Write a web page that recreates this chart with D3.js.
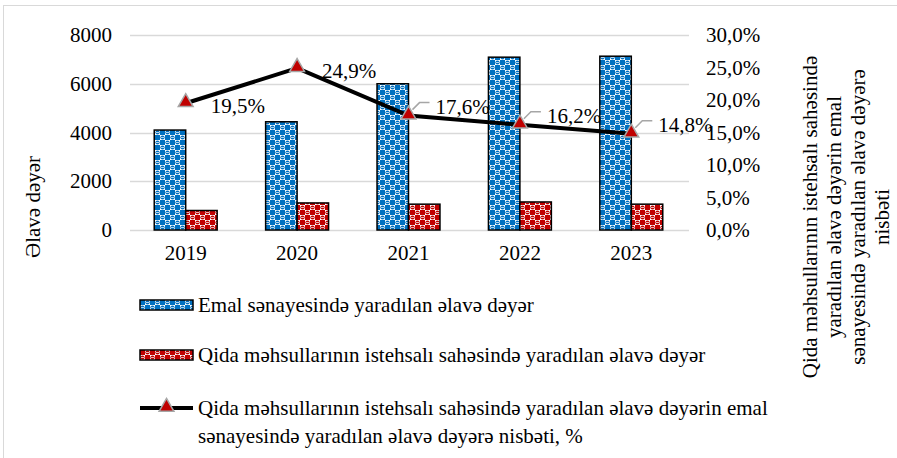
<html>
<head>
<meta charset="utf-8">
<script src="https://cdn.jsdelivr.net/npm/d3@7"></script>
</head>
<body style="margin:0">
<script>
(function(d3) {
  'use strict';

  // values
  var years = ['2019', '2020', '2021', '2022', '2023'];
  var emal = [4100, 4440, 6000, 7090, 7130];      // Emal sənayesi
  var qida = [800, 1110, 1060, 1150, 1060];       // Qida məhsulları
  var nisbet = [19.5, 24.9, 17.6, 16.2, 14.8];    // %
  var leftTicks = [0, 2000, 4000, 6000, 8000];
  var rightTicks = [0, 5, 10, 15, 20, 25, 30];

  var legendLabels = [
    'Emal sənayesində yaradılan əlavə dəyər',
    'Qida məhsullarının istehsalı sahəsində yaradılan əlavə dəyər',
    ['Qida məhsullarının istehsalı sahəsində yaradılan əlavə dəyərin emal',
     'sənayesində yaradılan əlavə dəyərə nisbəti, %']
  ];
  var rightTitle = ['Qida məhsullarının istehsalı sahəsində',
                    'yaradılan əlavə dəyərin emal',
                    'sənayesində yaradılan əlavə dəyərə',
                    'nisbəti'];

  var blue = '#0070C0', red = '#C00000';
  var width = 897, height = 458;
  var fs = 21;
  var font = 'Liberation Serif';

  var svg = d3.select('body').append('svg')
    .attr('width', width)
    .attr('height', height)
    .attr('font-family', font);

  // patterns for the bars
  var defs = svg.append('defs');
  function makePattern(id, color) {
    var p = defs.append('pattern')
      .attr('id', id)
      .attr('patternUnits', 'userSpaceOnUse')
      .attr('width', 10).attr('height', 10);
    p.append('rect').attr('width', 10).attr('height', 10).attr('fill', '#fff');
    p.append('rect').attr('x', 0).attr('y', 0).attr('width', 5).attr('height', 5).attr('fill', color);
    p.append('rect').attr('x', 5).attr('y', 5).attr('width', 5).attr('height', 5).attr('fill', color);
    p.append('circle').attr('cx', 7.5).attr('cy', 2.5).attr('r', 2.1).attr('fill', color);
    p.append('circle').attr('cx', 2.5).attr('cy', 7.5).attr('r', 2.1).attr('fill', color);
    p.append('rect').attr('x', 6).attr('y', 2.2).attr('width', 3).attr('height', 0.7).attr('fill', '#fff');
    p.append('rect').attr('x', 1).attr('y', 7.2).attr('width', 3).attr('height', 0.7).attr('fill', '#fff');
  }
  makePattern('patBlue', blue);
  makePattern('patRed', red);

  // outer frame
  svg.append('rect')
    .attr('x', 3.5).attr('y', 5.5)
    .attr('width', 900).attr('height', 460)
    .attr('fill', 'none')
    .attr('stroke', '#d9d9d9');

  var x = d3.scaleBand().domain(years).range([130, 687]).padding(0);
  var x1 = d3.scaleBand().domain(['emal', 'qida'])
    .range([0, x.bandwidth()]).paddingInner(0).paddingOuter(0.77);
  var y = d3.scaleLinear().domain([0, 8000]).range([230, 35]);
  var y2 = d3.scaleLinear().domain([0, 30]).range([230, 35]);

  // gridlines
  svg.append('g')
    .selectAll('line')
    .data(leftTicks)
    .enter().append('line')
      .attr('x1', 130).attr('x2', 689)
      .attr('y1', function(d) { return Math.round(y(d)) + 0.5; })
      .attr('y2', function(d) { return Math.round(y(d)) + 0.5; })
      .attr('stroke', '#d9d9d9')
      .attr('stroke-width', 1.3);

  function styleAxis(g) {
    g.attr('font-family', font).attr('font-size', fs);
    g.select('.domain').remove();
    g.selectAll('text').attr('fill', '#000');
  }

  // left axis
  svg.append('g')
    .attr('transform', 'translate(130,0)')
    .call(d3.axisLeft(y).tickValues(leftTicks).tickSize(0).tickPadding(18).tickFormat(d3.format('d')))
    .call(styleAxis);

  // right axis
  var fmtPct = function(d) { return d.toFixed(1).replace('.', ',') + '%'; };
  svg.append('g')
    .attr('transform', 'translate(689,0)')
    .call(d3.axisRight(y2).tickValues(rightTicks).tickSize(0).tickPadding(17).tickFormat(fmtPct))
    .call(styleAxis);

  // x axis
  svg.append('g')
    .attr('transform', 'translate(0,230)')
    .call(d3.axisBottom(x).tickSize(0).tickPadding(15))
    .call(styleAxis);

  // bars
  var series = [
    { key: 'emal', values: emal, fill: 'url(#patBlue)' },
    { key: 'qida', values: qida, fill: 'url(#patRed)' }
  ];
  series.forEach(function(s) {
    svg.append('g').selectAll('rect')
      .data(s.values)
      .enter().append('rect')
        .attr('x', function(d, i) { return x(years[i]) + x1(s.key); })
        .attr('y', function(d) { return y(d); })
        .attr('width', x1.bandwidth())
        .attr('height', function(d) { return y(0) - y(d); })
        .attr('fill', s.fill)
        .attr('stroke', '#000')
        .attr('stroke-width', 1.5);
  });

  // ratio line
  var cx = function(d, i) { return x(years[i]) + x.bandwidth() / 2; };
  var line = d3.line()
    .x(cx)
    .y(function(d) { return y2(d); });
  svg.append('path')
    .attr('d', line(nisbet))
    .attr('fill', 'none')
    .attr('stroke', '#000')
    .attr('stroke-width', 4);

  var tri = d3.symbol().type(d3.symbolTriangle).size(95);
  svg.append('g').selectAll('path')
    .data(nisbet)
    .enter().append('path')
      .attr('d', tri)
      .attr('transform', function(d, i) { return 'translate(' + cx(d, i) + ',' + (y2(d) - 1) + ')'; })
      .attr('fill', red)
      .attr('stroke', '#a6a6a6')
      .attr('stroke-width', 1.5);

  // data labels; the last three get a leader line
  var labels = svg.append('g');
  nisbet.forEach(function(d, i) {
    var px = cx(d, i), py = y2(d);
    var text = fmtPct(d);
    if (i < 2) {
      labels.append('text')
        .attr('x', px + 25).attr('y', py + 2)
        .attr('dy', '.35em')
        .attr('font-family', font).attr('font-size', fs)
        .text(text);
    } else {
      labels.append('path')
        .attr('d', 'M' + (px + 4) + ',' + (py - 6) + 'L' + (px + 11) + ',' + (py - 13) + 'H' + (px + 21))
        .attr('fill', 'none')
        .attr('stroke', '#a6a6a6')
        .attr('stroke-width', 1.5);
      labels.append('text')
        .attr('x', px + 27).attr('y', py - 9)
        .attr('dy', '.35em')
        .attr('font-family', font).attr('font-size', fs)
        .text(text);
    }
  });

  // axis titles
  svg.append('text')
    .attr('transform', 'translate(40,207) rotate(-90)')
    .attr('text-anchor', 'middle')
    .attr('font-family', font).attr('font-size', fs)
    .text('Əlavə dəyər');

  rightTitle.forEach(function(t, i) {
    svg.append('text')
      .attr('transform', 'translate(' + (817 + i * 24) + ',217) rotate(-90)')
      .attr('text-anchor', 'middle')
      .attr('font-family', font).attr('font-size', fs)
      .text(t);
  });

  // legend
  var rows = [305, 355, 408];
  svg.append('rect').attr('x', 140).attr('y', rows[0] - 5).attr('width', 53).attr('height', 10)
    .attr('fill', 'url(#patBlue)').attr('stroke', '#000').attr('stroke-width', 1.5);
  svg.append('rect').attr('x', 140).attr('y', rows[1] - 5).attr('width', 53).attr('height', 10)
    .attr('fill', 'url(#patRed)').attr('stroke', '#000').attr('stroke-width', 1.5);
  svg.append('line').attr('x1', 140).attr('x2', 193).attr('y1', rows[2]).attr('y2', rows[2])
    .attr('stroke', '#000').attr('stroke-width', 4);
  svg.append('path').attr('d', tri).attr('transform', 'translate(166.5,' + (rows[2] - 1) + ')')
    .attr('fill', red).attr('stroke', '#a6a6a6').attr('stroke-width', 1.5);

  legendLabels.forEach(function(l, i) {
    var lines = Array.isArray(l) ? l : [l];
    lines.forEach(function(t, j) {
      svg.append('text')
        .attr('x', 198).attr('y', rows[i] + j * 28)
        .attr('dy', '.35em')
        .attr('font-family', font).attr('font-size', fs)
        .text(t);
    });
  });
})(window.d3);
</script>
</body>
</html>
